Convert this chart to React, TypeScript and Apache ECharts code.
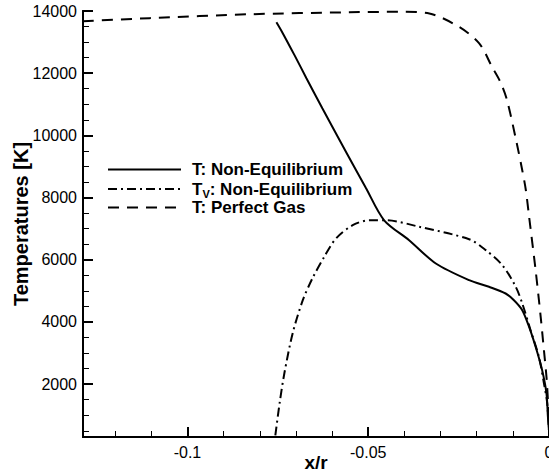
import React, { useEffect, useRef } from "react";
import * as echarts from "echarts";

// T: Non-Equilibrium
const tNeqX = [-0.0754, -0.0738, -0.0704, -0.0671, -0.0627, -0.0561, -0.0506, -0.0456, -0.0387, -0.0313, -0.0221, -0.0166, -0.012, -0.0097, -0.0074, -0.0055, -0.0037, -0.0019, -0.0007, -0.0003, 0];
const tNeqY = [13640, 13320, 12580, 11840, 10875, 9460, 8300, 7270, 6630, 5880, 5345, 5130, 4915, 4700, 4380, 3840, 3200, 2450, 1700, 950, 500];

// Tv: Non-Equilibrium
const tvX = [-0.0757, -0.0745, -0.0732, -0.0709, -0.0681, -0.0654, -0.0622, -0.0589, -0.0543, -0.0497, -0.0451, -0.0359, -0.0221, -0.0175, -0.0129, -0.0092, -0.0074, -0.0051, -0.0028, -0.0014, -0.0005, 0];
const tvY = [350, 1400, 2350, 3640, 4700, 5410, 6090, 6685, 7110, 7270, 7270, 7060, 6660, 6310, 5825, 5130, 4595, 3735, 2880, 2030, 1390, 500];

// T: Perfect Gas
const pgX = [-0.1289, -0.1105, -0.0829, -0.0552, -0.0414, -0.0331, -0.0249, -0.0193, -0.0157, -0.0133, -0.0116, -0.0091, -0.0074, -0.0064, -0.0055, -0.0037, -0.0023, -0.0014, -0.0007, -0.0003, 0];
const pgY = [13670, 13770, 13895, 13960, 13975, 13920, 13490, 12960, 12190, 11680, 11130, 9845, 8880, 8235, 7380, 5665, 4165, 3090, 2235, 1485, 600];

const seriesNames = ["T: Non-Equilibrium", "Tv: Non-Equilibrium", "T: Perfect Gas"];

const xMajor = [-0.1, -0.05, 0];
const xMinor = [-0.12, -0.11, -0.09, -0.08, -0.07, -0.06, -0.04, -0.03, -0.02, -0.01];
const yMajor = [2000, 4000, 6000, 8000, 10000, 12000, 14000];
const yMinor = [500, 1000, 1500, 2500, 3000, 3500, 4500, 5000, 5500, 6500, 7000, 7500, 8500, 9000, 9500, 10500, 11000, 11500, 12500, 13000, 13500];

const X_MIN = -0.1289;
const X_MAX = 0;
const Y_MIN = 300;
const Y_MAX = 14000;

const zip = (xs: number[], ys: number[]) => xs.map((x, i) => [x, ys[i]]);

const FONT = "Liberation Sans, Arial, Helvetica, sans-serif";
const GRID = { left: 83, right: 0, top: 11, bottom: 36, containLabel: false, outerBoundsMode: "none" };

export default function App() {
  const ref = useRef<HTMLDivElement>(null);
  useEffect(() => {
    if (!ref.current) return;
    const chart = echarts.init(ref.current, null, { renderer: "svg" });
    const axisLine = { show: true, onZero: false, lineStyle: { color: "#000", width: 2 } };
    const baseX = {
      type: "value" as const,
      min: X_MIN,
      max: X_MAX,
      position: "bottom" as const,
      splitLine: { show: false },
      axisLine,
    };
    const baseY = {
      type: "value" as const,
      min: Y_MIN,
      max: Y_MAX,
      position: "left" as const,
      splitLine: { show: false },
      axisLine,
    };
    const lineCommon = {
      type: "line" as const,
      xAxisIndex: 0,
      yAxisIndex: 0,
      smooth: 0.3,
      symbol: "none",
      itemStyle: { color: "#000" },
    };
    chart.setOption({
      animation: false,
      backgroundColor: "#fff",
      grid: [GRID, { ...GRID }],
      legend: {
        orient: "vertical",
        left: 102,
        top: 156,
        itemWidth: 73,
        itemHeight: 14,
        itemGap: 0,
        data: seriesNames,
        itemStyle: { color: "rgba(0,0,0,0)", borderColor: "rgba(0,0,0,0)", borderWidth: 0 },
        formatter: (name: string) =>
          name.startsWith("Tv") ? "{b|T}{s|V}{b|: Non-Equilibrium}" : "{b|" + name + "}",
        textStyle: {
          fontFamily: FONT,
          fontWeight: "bold",
          fontSize: 17,
          color: "#000",
          padding: [0, 0, 0, 6],
          rich: {
            b: { fontFamily: FONT, fontWeight: "bold", fontSize: 17, color: "#000", lineHeight: 20, verticalAlign: "middle" },
            s: { fontFamily: FONT, fontWeight: "bold", fontSize: 11, color: "#000", lineHeight: 10, padding: [10, 0, 0, 0], verticalAlign: "bottom" },
          },
        },
      },
      xAxis: [
        {
          ...baseX,
          gridIndex: 0,
          name: "x/r",
          nameLocation: "middle",
          nameGap: 16,
          nameMoveOverlap: false,
          nameTextStyle: { fontFamily: FONT, fontWeight: "bold", fontSize: 19, color: "#000" },
          axisTick: { show: true, inside: true, length: 10, customValues: xMajor, lineStyle: { color: "#000", width: 2 } },
          axisLabel: { show: true, customValues: xMajor, margin: 7, fontFamily: FONT, fontSize: 16, color: "#000" },
        },
        {
          ...baseX,
          gridIndex: 1,
          axisTick: { show: true, inside: true, length: 6, customValues: xMinor, lineStyle: { color: "#000", width: 1 } },
          axisLabel: { show: false },
        },
      ],
      yAxis: [
        {
          ...baseY,
          gridIndex: 0,
          name: "Temperatures [K]",
          nameLocation: "middle",
          nameGap: 52,
          nameMoveOverlap: false,
          nameTextStyle: { fontFamily: FONT, fontWeight: "bold", fontSize: 20, color: "#000" },
          axisTick: { show: true, inside: true, length: 10, customValues: yMajor, lineStyle: { color: "#000", width: 2 } },
          axisLabel: { show: true, customValues: yMajor, margin: 6, fontFamily: FONT, fontSize: 16, color: "#000", formatter: (v: number) => String(v) },
        },
        {
          ...baseY,
          gridIndex: 1,
          axisTick: { show: true, inside: true, length: 6, customValues: yMinor, lineStyle: { color: "#000", width: 1 } },
          axisLabel: { show: false },
        },
      ],
      series: [
        {
          ...lineCommon,
          name: seriesNames[0],
          data: zip(tNeqX, tNeqY),
          lineStyle: { color: "#000", width: 2, type: "solid" },
        },
        {
          ...lineCommon,
          name: seriesNames[1],
          data: zip(tvX, tvY),
          lineStyle: { color: "#000", width: 2, type: [9, 4, 2, 4] },
        },
        {
          ...lineCommon,
          name: seriesNames[2],
          data: zip(pgX, pgY),
          lineStyle: { color: "#000", width: 2, type: [11, 8] },
        },
      ],
    });
    return () => chart.dispose();
  }, []);
  return <div ref={ref} style={{ width: 549, height: 473, position: "absolute", left: 0, top: 0 }} />;
}
